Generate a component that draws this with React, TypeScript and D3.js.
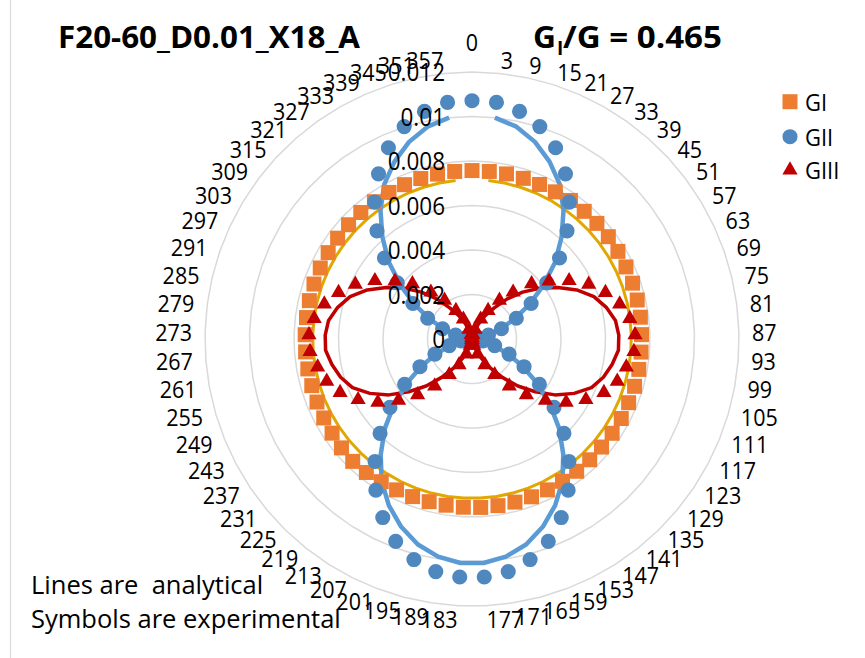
import React from "react";
import * as d3 from "d3";

const categories = [
  "0", "3", "9", "15", "21", "27", "33", "39", "45", "51", "57", "63", "69", "75", "81", "87",
  "93", "99", "105", "111", "117", "123", "129", "135", "141", "147", "153", "159", "165", "171", "177",
  "183", "189", "195", "201", "207", "213", "219", "225", "231", "237", "243", "249", "255", "261", "267",
  "273", "279", "285", "291", "297", "303", "309", "315", "321", "327", "333", "339", "345", "351", "357",
];

const radialTicks = [0, 0.002, 0.004, 0.006, 0.008, 0.01, 0.012];
const radialTickLabels = ["0", "0.002", "0.004", "0.006", "0.008", "0.01", "0.012"];

// Experimental (symbols)
const giExp = [
  0.00757, 0.00757, 0.00758, 0.00758, 0.00758, 0.0076, 0.00764, 0.00764, 0.00765, 0.00766, 0.00765, 0.00764, 0.00764, 0.00763, 0.00763, 0.00762,
  0.00762, 0.00762, 0.00761, 0.0076, 0.0076, 0.00759, 0.00758, 0.00758, 0.00758, 0.00758, 0.00758, 0.00758, 0.00758, 0.00758, 0.00758,
  0.00757, 0.00756, 0.00756, 0.00757, 0.00758, 0.0076, 0.00765, 0.00768, 0.00764, 0.00758, 0.00755, 0.00752, 0.0075, 0.0075, 0.0075,
  0.0075, 0.0075, 0.00751, 0.00752, 0.00753, 0.00754, 0.00755, 0.00756, 0.00757, 0.00757, 0.00757, 0.00757, 0.00757, 0.00757, 0.00757,
];
const giiExp = [
  0.01071, 0.01069, 0.01045, 0.01002, 0.00938, 0.00853, 0.00755, 0.00647, 0.00536, 0.0042, 0.0031, 0.0022, 0.0014, 0.00076, 0.0003, 0.0001,
  0.00018, 0.0005, 0.00106, 0.0018, 0.00265, 0.00365, 0.0048, 0.00592, 0.00702, 0.00805, 0.00897, 0.00972, 0.01025, 0.01058, 0.01071,
  0.01071, 0.01058, 0.01025, 0.00972, 0.00897, 0.00805, 0.00702, 0.00592, 0.0048, 0.00365, 0.00265, 0.0018, 0.00106, 0.0005, 0.00018,
  0.0001, 0.0003, 0.00076, 0.0014, 0.0022, 0.0031, 0.0042, 0.00536, 0.00647, 0.00755, 0.00853, 0.00938, 0.01002, 0.01045, 0.01069,
];
const giiiExp = [
  0, 0.00008, 0.0002, 0.00045, 0.00097, 0.00147, 0.00213, 0.0028, 0.00365, 0.00433, 0.00509, 0.00579, 0.00635, 0.00682, 0.00715, 0.00733,
  0.0073, 0.00705, 0.0068, 0.0064, 0.0058, 0.0051, 0.0043, 0.0035, 0.0027, 0.0019, 0.0013, 0.00072, 0.0003, 0.00014, 0.00002,
  0.00002, 0.00014, 0.0003, 0.00072, 0.0013, 0.0019, 0.0027, 0.0035, 0.0043, 0.0051, 0.0058, 0.0064, 0.0068, 0.00705, 0.0073,
  0.00733, 0.00715, 0.00682, 0.00635, 0.00579, 0.00509, 0.00433, 0.00365, 0.0028, 0.00213, 0.00147, 0.00097, 0.00045, 0.0002, 0.00008,
];

// Analytical (lines) — blank at category "0"
const giLine = [
  null, 0.00716, 0.00716, 0.00716, 0.00716, 0.00716, 0.00716, 0.00716, 0.00716, 0.00716, 0.00716, 0.00716, 0.00716, 0.00716, 0.00716, 0.00716,
  0.00716, 0.00716, 0.00716, 0.00716, 0.00716, 0.00716, 0.00716, 0.00716, 0.00716, 0.00716, 0.00716, 0.00716, 0.00716, 0.00716, 0.00716,
  0.00716, 0.00716, 0.00716, 0.00716, 0.00716, 0.00716, 0.00716, 0.00716, 0.00716, 0.00716, 0.00716, 0.00716, 0.00716, 0.00716, 0.00716,
  0.00716, 0.00716, 0.00716, 0.00716, 0.00716, 0.00716, 0.00716, 0.00716, 0.00716, 0.00716, 0.00716, 0.00716, 0.00716, 0.00716, 0.00716,
];
const giiLine = [
  null, 0.01, 0.00975, 0.0093, 0.0087, 0.008, 0.0071, 0.0061, 0.0051, 0.004, 0.003, 0.0021, 0.0013, 0.0006, 0.00018, 0.00001,
  0.00006, 0.00036, 0.00093, 0.00168, 0.00254, 0.0035, 0.00455, 0.00561, 0.00661, 0.00757, 0.00836, 0.00902, 0.00955, 0.0099, 0.01008,
  0.01008, 0.0099, 0.00955, 0.00902, 0.00836, 0.00757, 0.00661, 0.00561, 0.00455, 0.0035, 0.00254, 0.00168, 0.00093, 0.00036, 0.00006,
  0.00001, 0.00018, 0.0006, 0.0013, 0.0021, 0.003, 0.004, 0.0051, 0.0061, 0.0071, 0.008, 0.0087, 0.0093, 0.00975, 0.01,
];
const giiiLine = [
  null, 0.00003, 0.00018, 0.0004, 0.00075, 0.0012, 0.0017, 0.0024, 0.0031, 0.0038, 0.0045, 0.0052, 0.0058, 0.0062, 0.0065, 0.0066,
  0.0066, 0.0064, 0.00615, 0.0058, 0.0052, 0.0045, 0.0037, 0.00295, 0.0022, 0.00155, 0.001, 0.00058, 0.00028, 0.0001, 0.00001,
  0.00001, 0.0001, 0.00028, 0.00058, 0.001, 0.00155, 0.0022, 0.00295, 0.0037, 0.0045, 0.0052, 0.0058, 0.00615, 0.0064, 0.0066,
  0.0066, 0.0065, 0.0062, 0.0058, 0.0052, 0.0045, 0.0038, 0.0031, 0.0024, 0.0017, 0.0012, 0.00075, 0.0004, 0.00018, 0.00003,
];

const legendLabels = ["GI", "GII", "GIII"];

const FONT = "'Open Sans', 'Liberation Sans', sans-serif";
const ORANGE = "#ED7D31";
const BLUE_M = "#4F87BF";
const BLUE_L = "#5B9BD5";
const RED = "#C00000";
const GOLD = "#E0A800";

export default function App() {
  const W = 865;
  const H = 658;
  const cx = 472;
  const cy = 339;
  const r = d3.scaleLinear().domain([0, 0.012]).range([0, 267]);
  const n = categories.length;
  const ang = d3.scaleLinear().domain([0, n]).range([0, 2 * Math.PI]);

  const pt = (i: number, v: number) => {
    const a = ang(i);
    return [cx + r(v) * Math.sin(a), cy - r(v) * Math.cos(a)];
  };

  const radial = d3
    .lineRadial<{ i: number; v: number | null }>()
    .angle((d) => ang(d.i))
    .radius((d) => r(d.v as number))
    .defined((d) => d.v != null);

  const seriesPath = (vals: (number | null)[]) => {
    const data = vals.map((v, i) => ({ i, v }));
    data.push({ i: n, v: vals[0] });
    return radial(data) || "";
  };

  const ringGen = d3
    .lineRadial<number>()
    .angle((i) => ang(i))
    .radius(0)
    .curve(d3.curveLinearClosed);

  const idx = d3.range(n);

  const sq = d3.symbol(d3.symbolSquare, 225)() || "";
  const circ = d3.symbol(d3.symbolCircle, 180)() || "";
  const tri = d3.symbol(d3.symbolTriangle, 100)() || "";

  const labelR = 280;
  const SY = 1.1; // slight vertical stretch of text, as in the reference

  const Txt = (props: { x: number; y: number; anchor?: string; size: number; children: any; weight?: string }) => (
    <text
      transform={`translate(${props.x},${props.y}) scale(1,${SY})`}
      textAnchor={props.anchor || "start"}
      dominantBaseline="central"
      fontSize={props.size}
      fontWeight={props.weight}
      fill="#000"
    >
      {props.children}
    </text>
  );

  return (
    <div style={{ position: "absolute", left: 0, top: 0 }}>
      <svg width={W} height={H} style={{ display: "block", background: "#fff" }} fontFamily={FONT}>
        <rect x={0} y={0} width={W} height={H} fill="#fff" />
        <line x1={10.5} y1={0} x2={10.5} y2={H} stroke="#D9D9D9" strokeWidth={1.2} />

        {/* grid rings */}
        <g transform={`translate(${cx},${cy})`}>
          {radialTicks.slice(1).map((t) => (
            <path
              key={t}
              d={ringGen.radius(r(t))(idx) || ""}
              fill="none"
              stroke="#D9D9D9"
              strokeWidth={1.5}
            />
          ))}
        </g>

        {/* category labels */}
        {categories.map((c, i) => {
          const a = ang(i);
          const s = Math.sin(a);
          const co = Math.cos(a);
          if (i === 0) {
            return (
              <Txt key={"c" + i} x={cx} y={cy - labelR - 17} anchor="middle" size={21.5}>
                {c}
              </Txt>
            );
          }
          return (
            <Txt key={"c" + i} x={cx + labelR * s} y={cy - labelR * co} anchor={s > 0 ? "start" : "end"} size={21.5}>
              {c}
            </Txt>
          );
        })}

        {/* analytical lines */}
        <g transform={`translate(${cx},${cy})`} fill="none" strokeLinejoin="round">
          <path d={seriesPath(giLine)} stroke={GOLD} strokeWidth={3} />
          <path d={seriesPath(giiiLine)} stroke={RED} strokeWidth={3.5} />
          <path d={seriesPath(giiLine)} stroke={BLUE_L} strokeWidth={4.5} />
        </g>

        {/* experimental symbols */}
        {giExp.map((v, i) => {
          const [x, y] = pt(i, v);
          return <path key={"s" + i} d={sq} transform={`translate(${x},${y})`} fill={ORANGE} />;
        })}
        {giiExp.map((v, i) => {
          const [x, y] = pt(i, v);
          return <path key={"o" + i} d={circ} transform={`translate(${x},${y})`} fill={BLUE_M} />;
        })}
        {giiiExp.map((v, i) => {
          const [x, y] = pt(i, v);
          return <path key={"t" + i} d={tri} transform={`translate(${x},${y})`} fill={RED} />;
        })}

        {/* radial tick labels (drawn over the data, as in the reference) */}
        {radialTicks.map((t, k) => (
          <Txt key={"rt" + k} x={cx - 27} y={cy - r(t)} anchor="end" size={22.5}>
            {radialTickLabels[k]}
          </Txt>
        ))}

        {/* title */}
        <text x={58} y={48} fontSize={30} fontWeight="bold" textLength={302} lengthAdjust="spacingAndGlyphs">
          F20-60_D0.01_X18_A
        </text>
        <text x={533} y={48} fontSize={30} fontWeight="bold" textLength={23} lengthAdjust="spacingAndGlyphs">
          G
        </text>
        <text x={557} y={55} fontSize={19} fontWeight="bold">
          I
        </text>
        <text x={563} y={48} fontSize={30} fontWeight="bold" textLength={159} lengthAdjust="spacingAndGlyphs">
          /G = 0.465
        </text>

        {/* legend */}
        {legendLabels.map((lab, k) => {
          const ly = [101.7, 136.7, 170][k];
          const sym = [sq, circ, tri][k];
          const col = [ORANGE, BLUE_M, RED][k];
          return (
            <g key={lab}>
              <path d={sym} transform={`translate(790,${ly})`} fill={col} />
              <Txt x={805} y={ly} size={22}>
                {lab}
              </Txt>
            </g>
          );
        })}

        {/* notes */}
        <text x={31} y={594} fontSize={25.5} style={{ whiteSpace: "pre" }}>
          {"Lines are  analytical"}
        </text>
        <text x={31} y={628} fontSize={25.5}>
          Symbols are experimental
        </text>
      </svg>
    </div>
  );
}
